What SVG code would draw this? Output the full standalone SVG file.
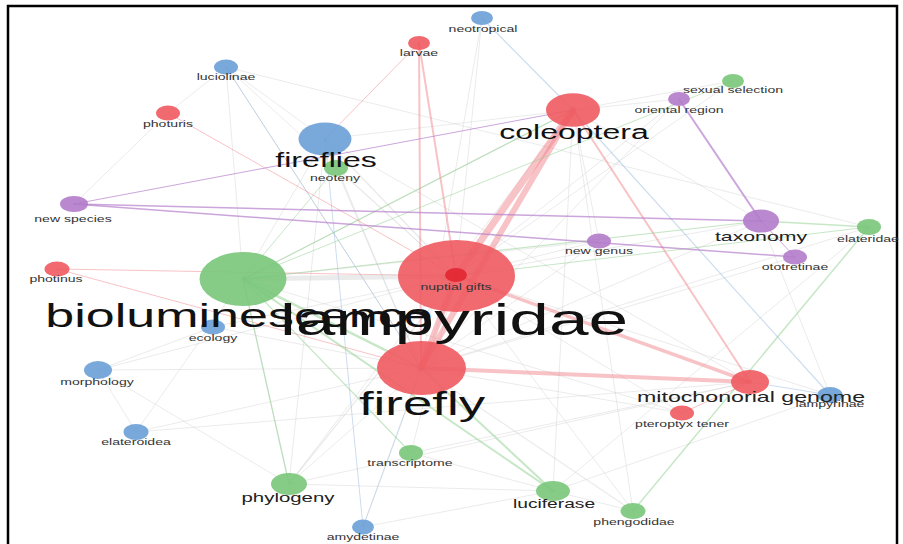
<svg xmlns="http://www.w3.org/2000/svg" width="903" height="544" viewBox="0 0 903 544">
<style>
.frame{fill:none;stroke:#000;stroke-width:2.5}
.e{fill:none;stroke-linecap:round}
.er{stroke:#f07b80;stroke-opacity:.45}
.eg{stroke:#8fd08d;stroke-opacity:.5}
.eb{stroke:#8fb3dc;stroke-opacity:.45}
.ep{stroke:#b57fcc;stroke-opacity:.7}
.ek{stroke:#cfcfcf;stroke-opacity:.42}
.red{fill:#ee5a61;fill-opacity:.9}
.dred{fill:#e0222e;fill-opacity:.85}
.green{fill:#79c67a;fill-opacity:.9}
.blue{fill:#6a9fd6;fill-opacity:.9}
.purple{fill:#b27bca;fill-opacity:.9}
text{font-family:"Liberation Sans",Arial,sans-serif;text-anchor:middle;fill:#333}
.s{font-size:8.8px}
.m{fill:#222}
.l{fill:#111}
</style>
<rect class="frame" x="8" y="6" width="889" height="560"/>
<g id="connectors">
  <line class="e ek" stroke-width="1" x1="226" y1="67" x2="325" y2="139"/>
  <line class="e ek" stroke-width="1" x1="226" y1="67" x2="456" y2="276"/>
  <line class="e ek" stroke-width="1" x1="226" y1="67" x2="421" y2="368"/>
  <line class="e ek" stroke-width="1" x1="226" y1="67" x2="869" y2="227"/>
  <line class="e ek" stroke-width="1" x1="226" y1="67" x2="243" y2="279"/>
  <line class="e ek" stroke-width="1" x1="168" y1="113" x2="74" y2="204"/>
  <line class="e ek" stroke-width="1" x1="168" y1="113" x2="226" y2="67"/>
  <line class="e ek" stroke-width="1.5" x1="325" y1="139" x2="456" y2="276"/>
  <line class="e ek" stroke-width="1.2" x1="325" y1="139" x2="421" y2="368"/>
  <line class="e ek" stroke-width="1" x1="325" y1="139" x2="573" y2="110"/>
  <line class="e ek" stroke-width="1" x1="325" y1="139" x2="243" y2="279"/>
  <line class="e ek" stroke-width="1" x1="325" y1="139" x2="289" y2="484"/>
  <line class="e ek" stroke-width="1" x1="325" y1="139" x2="750" y2="382"/>
  <line class="e ek" stroke-width="1" x1="336" y1="168" x2="456" y2="276"/>
  <line class="e ek" stroke-width="1" x1="336" y1="168" x2="421" y2="368"/>
  <line class="e ek" stroke-width="1" x1="482" y1="18" x2="456" y2="276"/>
  <line class="e ek" stroke-width="1" x1="482" y1="18" x2="421" y2="368"/>
  <line class="e ek" stroke-width="1" x1="573" y1="110" x2="243" y2="279"/>
  <line class="e ek" stroke-width="1" x1="573" y1="110" x2="599" y2="241"/>
  <line class="e ek" stroke-width="1" x1="573" y1="110" x2="553" y2="491"/>
  <line class="e ek" stroke-width="1" x1="573" y1="110" x2="289" y2="484"/>
  <line class="e ek" stroke-width="1" x1="679" y1="99" x2="456" y2="276"/>
  <line class="e ek" stroke-width="1" x1="679" y1="99" x2="573" y2="110"/>
  <line class="e ek" stroke-width="1" x1="679" y1="99" x2="421" y2="368"/>
  <line class="e ek" stroke-width="1" x1="733" y1="81" x2="456" y2="276"/>
  <line class="e ek" stroke-width="1" x1="733" y1="81" x2="573" y2="110"/>
  <line class="e ek" stroke-width="1" x1="599" y1="241" x2="456" y2="276"/>
  <line class="e ek" stroke-width="1" x1="599" y1="241" x2="421" y2="368"/>
  <line class="e ek" stroke-width="1" x1="761" y1="221" x2="456" y2="276"/>
  <line class="e ek" stroke-width="1" x1="761" y1="221" x2="421" y2="368"/>
  <line class="e ek" stroke-width="1" x1="795" y1="257" x2="421" y2="368"/>
  <line class="e ek" stroke-width="1" x1="869" y1="227" x2="421" y2="368"/>
  <line class="e ek" stroke-width="1" x1="213" y1="327" x2="456" y2="276"/>
  <line class="e ek" stroke-width="1" x1="213" y1="327" x2="98" y2="370"/>
  <line class="e ek" stroke-width="1" x1="213" y1="327" x2="421" y2="368"/>
  <line class="e ek" stroke-width="1" x1="98" y1="370" x2="136" y2="432"/>
  <line class="e ek" stroke-width="1" x1="98" y1="370" x2="456" y2="276"/>
  <line class="e ek" stroke-width="1" x1="98" y1="370" x2="421" y2="368"/>
  <line class="e ek" stroke-width="1" x1="98" y1="370" x2="289" y2="484"/>
  <line class="e ek" stroke-width="1" x1="136" y1="432" x2="421" y2="368"/>
  <line class="e ek" stroke-width="1" x1="136" y1="432" x2="750" y2="382"/>
  <line class="e ek" stroke-width="1" x1="136" y1="432" x2="243" y2="279"/>
  <line class="e ek" stroke-width="1.2" x1="289" y1="484" x2="243" y2="279"/>
  <line class="e ek" stroke-width="1.2" x1="289" y1="484" x2="456" y2="276"/>
  <line class="e ek" stroke-width="1" x1="289" y1="484" x2="421" y2="368"/>
  <line class="e ek" stroke-width="1" x1="289" y1="484" x2="750" y2="382"/>
  <line class="e ek" stroke-width="1" x1="289" y1="484" x2="553" y2="491"/>
  <line class="e eb" stroke-width="1" x1="363" y1="527" x2="325" y2="139"/>
  <line class="e eb" stroke-width="1" x1="363" y1="527" x2="421" y2="368"/>
  <line class="e ek" stroke-width="1" x1="363" y1="527" x2="456" y2="276"/>
  <line class="e ek" stroke-width="1" x1="363" y1="527" x2="553" y2="491"/>
  <line class="e ek" stroke-width="1" x1="411" y1="453" x2="553" y2="491"/>
  <line class="e ek" stroke-width="1" x1="411" y1="453" x2="456" y2="276"/>
  <line class="e ek" stroke-width="1" x1="411" y1="453" x2="750" y2="382"/>
  <line class="e ek" stroke-width="1" x1="553" y1="491" x2="633" y2="511"/>
  <line class="e ek" stroke-width="1.2" x1="633" y1="511" x2="421" y2="368"/>
  <line class="e ek" stroke-width="1" x1="633" y1="511" x2="456" y2="276"/>
  <line class="e ek" stroke-width="1" x1="633" y1="511" x2="573" y2="110"/>
  <line class="e ek" stroke-width="1" x1="682" y1="413" x2="421" y2="368"/>
  <line class="e ek" stroke-width="1" x1="682" y1="413" x2="456" y2="276"/>
  <line class="e ek" stroke-width="1" x1="682" y1="413" x2="243" y2="279"/>
  <line class="e ek" stroke-width="1" x1="830" y1="395" x2="553" y2="491"/>
  <line class="e ek" stroke-width="1" x1="830" y1="395" x2="456" y2="276"/>
  <line class="e ek" stroke-width="1" x1="830" y1="395" x2="761" y2="221"/>
  <line class="e ek" stroke-width="1" x1="869" y1="227" x2="553" y2="491"/>
  <line class="e ek" stroke-width="1" x1="599" y1="241" x2="243" y2="279"/>
  <line class="e ek" stroke-width="1" x1="761" y1="221" x2="573" y2="110"/>
  <line class="e eb" stroke-width="1.2" x1="482" y1="18" x2="573" y2="110"/>
  <line class="e eb" stroke-width="1.2" x1="573" y1="110" x2="830" y2="395"/>
  <line class="e eb" stroke-width="1" x1="750" y1="382" x2="830" y2="395"/>
  <line class="e eb" stroke-width="1" x1="226" y1="67" x2="421" y2="368"/>
  <line class="e er" stroke-width="1" x1="168" y1="113" x2="456" y2="276"/>
  <line class="e er" stroke-width="1" x1="57" y1="269" x2="456" y2="276"/>
  <line class="e er" stroke-width="1" x1="57" y1="269" x2="421" y2="368"/>
  <line class="e er" stroke-width="2" x1="419" y1="43" x2="456" y2="276"/>
  <line class="e er" stroke-width="2" x1="419" y1="43" x2="421" y2="368"/>
  <line class="e er" stroke-width="1" x1="419" y1="43" x2="325" y2="139"/>
  <line class="e er" stroke-width="1" x1="682" y1="413" x2="750" y2="382"/>
  <line class="e er" stroke-width="2" x1="573" y1="110" x2="750" y2="382"/>
  <line class="e er" stroke-width="3.5" x1="456" y1="276" x2="750" y2="382"/>
  <line class="e er" stroke-width="4" x1="421" y1="368" x2="750" y2="382"/>
  <line class="e er" stroke-width="7" x1="456" y1="276" x2="573" y2="110"/>
  <line class="e er" stroke-width="6" x1="421" y1="368" x2="573" y2="110"/>
  <line class="e er" stroke-width="6" x1="456" y1="276" x2="421" y2="368"/>
  <line class="e ek" stroke-width="5" x1="243" y1="279" x2="456" y2="276"/>
  <line class="e eg" stroke-width="2.5" x1="243" y1="279" x2="421" y2="368"/>
  <line class="e eg" stroke-width="2" x1="243" y1="279" x2="553" y2="491"/>
  <line class="e eg" stroke-width="2" x1="421" y1="368" x2="553" y2="491"/>
  <line class="e eg" stroke-width="1.2" x1="243" y1="279" x2="411" y2="453"/>
  <line class="e eg" stroke-width="1.2" x1="243" y1="279" x2="289" y2="484"/>
  <line class="e eg" stroke-width="1.2" x1="243" y1="279" x2="573" y2="110"/>
  <line class="e eg" stroke-width="1" x1="243" y1="279" x2="733" y2="81"/>
  <line class="e eg" stroke-width="1.2" x1="243" y1="279" x2="761" y2="221"/>
  <line class="e eg" stroke-width="1.5" x1="869" y1="227" x2="761" y2="221"/>
  <line class="e eg" stroke-width="1.5" x1="869" y1="227" x2="633" y2="511"/>
  <line class="e eg" stroke-width="1" x1="869" y1="227" x2="456" y2="276"/>
  <line class="e eg" stroke-width="1" x1="336" y1="168" x2="243" y2="279"/>
  <line class="e ep" stroke-width="1" stroke-opacity=".35" x1="74" y1="204" x2="573" y2="110"/>
  <line class="e ep" stroke-width="1.5" x1="74" y1="204" x2="761" y2="221"/>
  <line class="e ep" stroke-width="1.5" x1="74" y1="204" x2="795" y2="257"/>
  <line class="e ep" stroke-width="2" stroke-opacity=".45" x1="679" y1="99" x2="761" y2="221"/>
  <line class="e ep" stroke-width="1" stroke-opacity=".4" x1="761" y1="221" x2="795" y2="257"/>
</g>
<g id="node-neotropical"><ellipse class="blue" cx="482" cy="18" rx="11" ry="7"/><text class="s" transform="translate(483,32) scale(1.6,1)">neotropical</text></g>
<g id="node-larvae"><ellipse class="red" cx="419" cy="43" rx="11" ry="7"/><text class="s" transform="translate(419,56) scale(1.6,1)">larvae</text></g>
<g id="node-luciolinae"><ellipse class="blue" cx="226" cy="67" rx="12" ry="7.5"/><text class="s" transform="translate(226,80) scale(1.6,1)">luciolinae</text></g>
<g id="node-photuris"><ellipse class="red" cx="168" cy="113" rx="12" ry="7.5"/><text class="s" transform="translate(168,127) scale(1.6,1)">photuris</text></g>
<g id="node-neoteny"><ellipse class="green" cx="336" cy="168" rx="12" ry="8"/><text class="s" transform="translate(335,181) scale(1.6,1)">neoteny</text></g>
<g id="node-sexual-selection"><ellipse class="green" cx="733" cy="81" rx="11" ry="7"/><text class="s" transform="translate(733,93) scale(1.6,1)">sexual selection</text></g>
<g id="node-oriental-region"><ellipse class="purple" cx="679" cy="99" rx="11" ry="7"/><text class="s" transform="translate(679,113) scale(1.6,1)">oriental region</text></g>
<g id="node-new-species"><ellipse class="purple" cx="74" cy="204" rx="14" ry="8"/><text class="s" transform="translate(73,222) scale(1.6,1)">new species</text></g>
<g id="node-elateridae"><ellipse class="green" cx="869" cy="227" rx="12" ry="8"/><text class="s" transform="translate(868,242) scale(1.6,1)">elateridae</text></g>
<g id="node-new-genus"><ellipse class="purple" cx="599" cy="241" rx="12" ry="7.5"/><text class="s" transform="translate(599,254) scale(1.6,1)">new genus</text></g>
<g id="node-ototretinae"><ellipse class="purple" cx="795" cy="257" rx="12" ry="7.5"/><text class="s" transform="translate(795,270) scale(1.6,1)">ototretinae</text></g>
<g id="node-photinus"><ellipse class="red" cx="57" cy="269" rx="12.5" ry="7.5"/><text class="s" transform="translate(56,282) scale(1.6,1)">photinus</text></g>
<g id="node-ecology"><ellipse class="blue" cx="213" cy="327" rx="12" ry="7.5"/><text class="s" transform="translate(213,341) scale(1.6,1)">ecology</text></g>
<g id="node-morphology"><ellipse class="blue" cx="98" cy="370" rx="14" ry="9"/><text class="s" transform="translate(97,385) scale(1.6,1)">morphology</text></g>
<g id="node-lampyrinae"><ellipse class="blue" cx="830" cy="395" rx="12.5" ry="8"/><text class="s" transform="translate(830,407) scale(1.6,1)">lampyrinae</text></g>
<g id="node-pteroptyx-tener"><ellipse class="red" cx="682" cy="413" rx="12" ry="7.5"/><text class="s" transform="translate(682,427) scale(1.6,1)">pteroptyx tener</text></g>
<g id="node-elateroidea"><ellipse class="blue" cx="136" cy="432" rx="12.5" ry="8"/><text class="s" transform="translate(136,445) scale(1.6,1)">elateroidea</text></g>
<g id="node-transcriptome"><ellipse class="green" cx="411" cy="453" rx="12" ry="8"/><text class="s" transform="translate(410,466) scale(1.6,1)">transcriptome</text></g>
<g id="node-phengodidae"><ellipse class="green" cx="633" cy="511" rx="12.5" ry="8"/><text class="s" transform="translate(634,525) scale(1.6,1)">phengodidae</text></g>
<g id="node-amydetinae"><ellipse class="blue" cx="363" cy="527" rx="11" ry="7.5"/><text class="s" transform="translate(363,540) scale(1.6,1)">amydetinae</text></g>
<g id="node-phylogeny"><ellipse class="green" cx="289" cy="484" rx="18" ry="11"/><text class="m" font-size="12.75" transform="translate(288,502) scale(1.6,1)">phylogeny</text></g>
<g id="node-luciferase"><ellipse class="green" cx="553" cy="491" rx="17" ry="10"/><text class="m" font-size="12" transform="translate(554,508) scale(1.6,1)">luciferase</text></g>
<g id="node-taxonomy"><ellipse class="purple" cx="761" cy="221" rx="18" ry="11.5"/><text class="m" font-size="13.3" transform="translate(761,241) scale(1.6,1)">taxonomy</text></g>
<g id="node-mitochonorial-genome"><ellipse class="red" cx="750" cy="382" rx="19" ry="12"/><text class="m" font-size="14.5" transform="translate(751,402) scale(1.6,1)">mitochonorial genome</text></g>
<g id="node-fireflies"><ellipse class="blue" cx="325" cy="139" rx="26.5" ry="16.5"/><text class="l" font-size="20" transform="translate(326,167) scale(1.6,1)">fireflies</text></g>
<g id="node-coleoptera"><ellipse class="red" cx="573" cy="110" rx="27" ry="16.7"/><text class="l" font-size="20" transform="translate(574,139) scale(1.6,1)">coleoptera</text></g>
<g id="node-firefly"><ellipse class="red" cx="421.5" cy="368" rx="44.5" ry="27"/><text class="l" font-size="33" transform="translate(422,415) scale(1.6,1)">firefly</text></g>
<g id="node-lampyridae"><ellipse class="red" cx="456.5" cy="276" rx="58.5" ry="36"/><text class="l" font-size="44.5" transform="translate(454,335) scale(1.6,1)">lampyridae</text></g>
<g id="node-nuptial-gifts"><ellipse class="dred" cx="456" cy="275" rx="11" ry="7"/><text class="s" transform="translate(456,290) scale(1.6,1)">nuptial gifts</text></g>
<g id="node-bioluminescence"><ellipse class="green" cx="243" cy="279" rx="43.5" ry="27"/><text class="l" font-size="32.5" transform="translate(239,327) scale(1.6,1)">bioluminescence</text></g>
</svg>
